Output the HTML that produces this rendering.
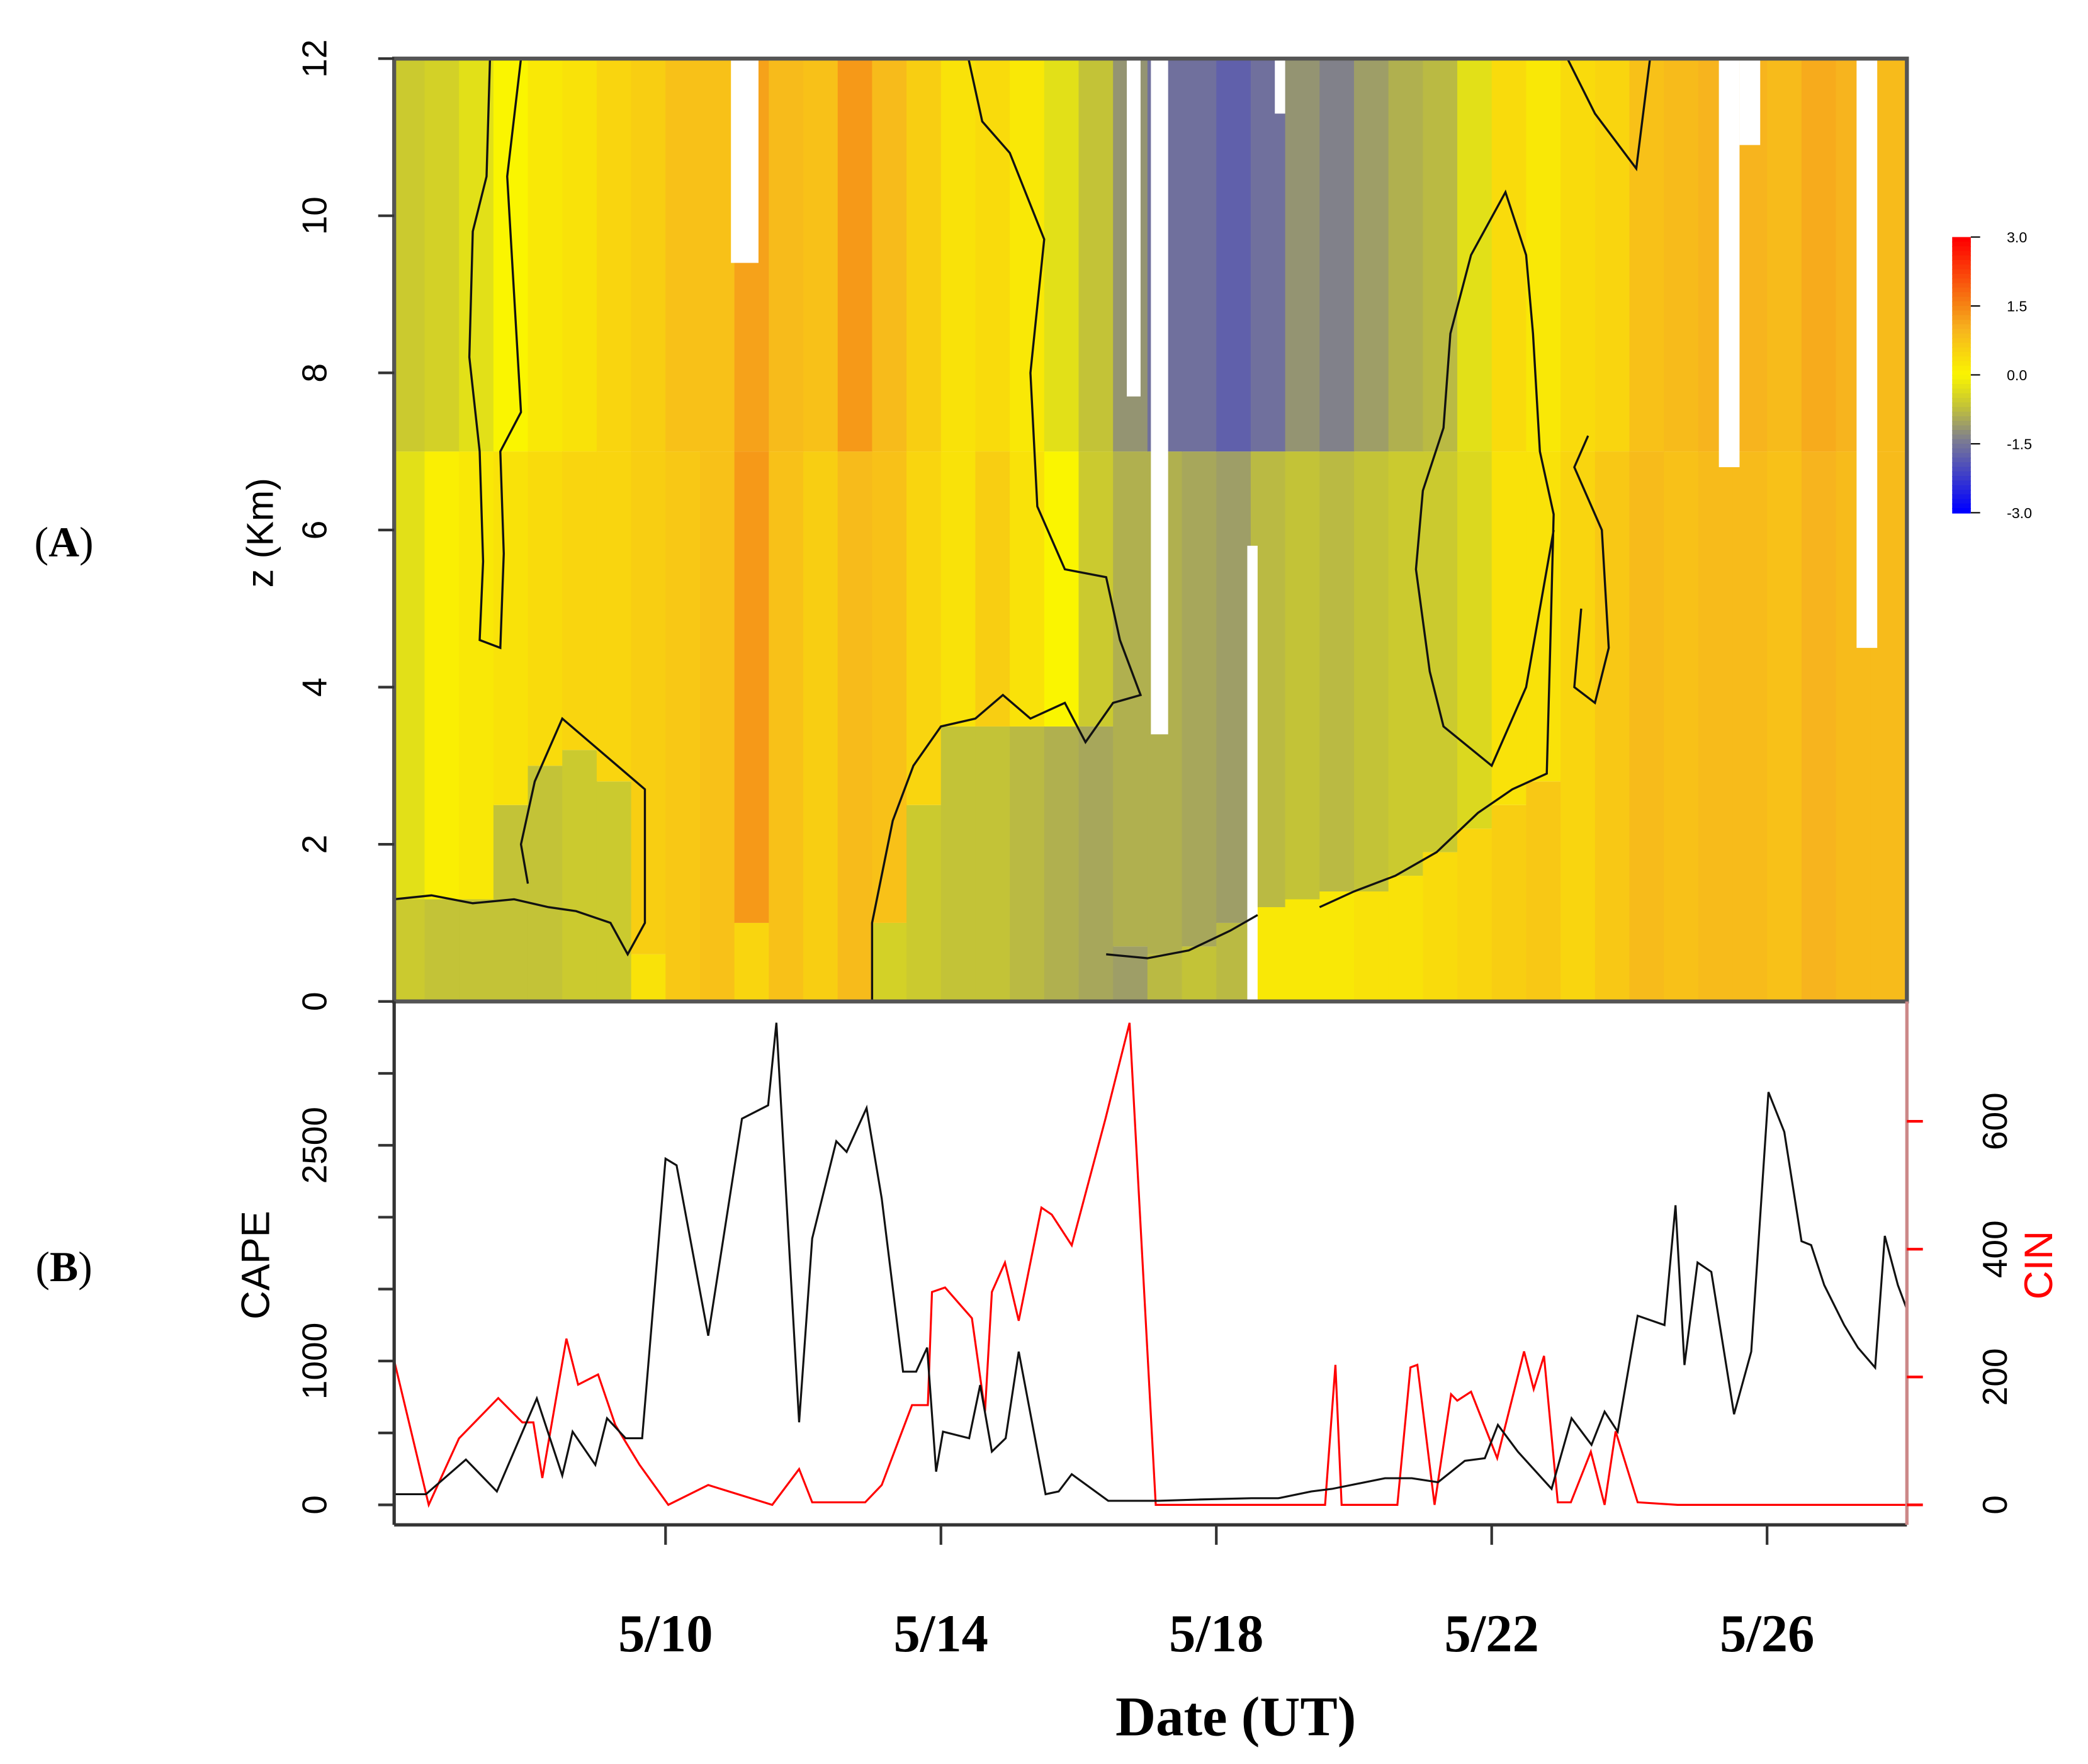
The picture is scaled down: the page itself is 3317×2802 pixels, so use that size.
<!DOCTYPE html>
<html><head><meta charset="utf-8"><style>
html,body{margin:0;padding:0;background:#fff;}
svg{display:block;}
</style></head><body>
<svg id="chart" width="3317" height="2802" viewBox="0 0 1568 1324.6" preserveAspectRatio="none" xmlns="http://www.w3.org/2000/svg">
<rect width="1568" height="1324.6" fill="#fff"/>
<g id="heat"></g>
<g id="gaps"></g>
<g id="contours" fill="none" stroke="#111" stroke-width="1.6"></g>
<g id="lower"></g>
<g id="axes" font-family="Liberation Sans, sans-serif"></g>
<text x="48" y="418" font-family="Liberation Serif, serif" font-size="32" text-anchor="middle">(<tspan font-weight="bold">A</tspan>)</text>
<text x="48" y="962" font-family="Liberation Serif, serif" font-size="32" text-anchor="middle">(<tspan font-weight="bold">B</tspan>)</text>
<text transform="translate(205,400) rotate(-90)" font-family="Liberation Sans, sans-serif" font-size="28" text-anchor="middle">z (Km)</text>
<text transform="translate(202,950) rotate(-90)" font-family="Liberation Sans, sans-serif" font-size="30" text-anchor="middle">CAPE</text>
<text transform="translate(1541,950) rotate(-90)" font-family="Liberation Sans, sans-serif" font-size="30" fill="#f00" text-anchor="middle">CIN</text>
<text x="928" y="1303" font-family="Liberation Serif, serif" font-weight="bold" font-size="42" text-anchor="middle">Date (UT)</text>
</svg>
<script>
// ---------- data ----------
const colDays=[6,6.5,7,7.5,8,8.5,9,9.5,10,10.5,11,11.5,12,12.5,13,13.5,14,14.5,15,15.5,16,16.5,17,17.5,18,18.5,19,19.5,20,20.5,21,21.5,22,22.5,23,23.5,24,24.5,25,25.5,26,26.5,27,27.5];
const lowVals=[-0.6,-0.7,-0.7,-0.7,-0.7,-0.6,-0.6,0.3,0.6,0.7,0.5,0.6,0.4,0.5,-0.5,-0.6,-0.7,-0.7,-0.8,-0.9,-1.0,-1.1,-0.8,-0.7,-0.8,0.2,0.2,0.2,0.3,0.3,0.4,0.5,0.6,0.7,0.8,0.9,1.1,0.9,0.8,0.9,0.8,1.0,0.9,0.9];
const splitKm=[1.3,1.3,1.3,2.5,3.0,3.2,2.8,0.6,0,0,1,0,0,0,1,2.5,3.5,3.5,3.5,3.5,3.5,0.7,0.6,0.7,1.0,1.2,1.3,1.4,1.4,1.6,1.9,2.2,2.5,2.8,0,0,0,0,0,0,0,0,0,0];
const midVals=[-0.3,0.1,0.2,0.3,0.4,0.5,0.5,0.6,0.7,0.8,1.3,0.8,0.6,0.9,0.8,0.5,0.3,0.6,0.3,0.0,-0.6,-0.9,-0.9,-1.0,-1.1,-0.8,-0.7,-0.8,-0.7,-0.6,-0.6,-0.4,0.3,0.3,0.5,0.7,0.9,0.8,0.9,0.9,0.8,1.0,0.9,0.9];
const topVals=[-0.6,-0.5,-0.3,0.0,0.2,0.3,0.5,0.6,0.8,0.8,1.2,0.9,0.8,1.3,0.9,0.6,0.3,0.4,0.2,-0.3,-0.7,-1.2,-1.6,-1.6,-1.8,-1.6,-1.2,-1.4,-1.1,-0.9,-0.8,-0.3,0.4,0.2,0.4,0.5,0.8,0.9,1.0,1.0,0.9,1.1,1.0,0.9];

const gapDay0=[10.95,16.7,17.05,18.45,18.85,25.3,25.6,27.3];
const gapDay1=[11.35,16.9,17.3,18.6,19.0,25.6,25.9,27.6];
const gapKm0=[9.4,7.7,3.4,0,11.3,6.8,10.9,4.5];

const capeDays=[6.06,6.52,7.10,7.55,8.13,8.50,8.65,8.98,9.15,9.42,9.66,10.0,10.16,10.62,11.11,11.49,11.61,11.94,12.13,12.48,12.63,12.92,13.14,13.45,13.64,13.80,13.93,14.03,14.41,14.57,14.74,14.94,15.13,15.52,15.71,15.90,16.43,17.16,17.74,18.51,18.90,19.38,19.68,20.45,20.84,21.22,21.61,21.90,22.09,22.38,22.87,23.16,23.45,23.64,23.83,24.12,24.51,24.67,24.80,24.99,25.19,25.52,25.77,26.02,26.25,26.50,26.64,26.83,27.12,27.32,27.57,27.71,27.90,28.03];
const capeVals=[74,74,315,93,740,204,509,278,602,463,463,2407,2361,1176,2685,2778,3352,574,1852,2528,2454,2759,2130,926,926,1093,231,509,463,833,370,463,1065,74,93,213,28,28,37,46,46,93,111,185,185,157,306,324,556,370,111,602,417,648,509,1315,1250,2083,972,1685,1620,630,1065,2870,2593,1833,1806,1528,1250,1093,954,1870,1528,1361];

const cinDays=[6.06,6.56,7.0,7.57,7.92,8.08,8.21,8.56,8.73,9.02,9.27,9.62,10.04,10.62,11.55,11.94,12.13,12.90,13.14,13.58,13.81,13.87,14.06,14.45,14.64,14.74,14.93,15.13,15.46,15.61,15.90,16.39,16.74,17.12,17.74,18.90,19.58,19.73,19.82,20.63,20.82,20.92,21.17,21.41,21.50,21.70,22.08,22.47,22.61,22.76,22.96,23.15,23.44,23.64,23.80,24.12,24.70,28.03];
const cinVals=[225,0,104,167,129,129,42,260,188,204,125,63,0,31,0,56,4,4,31,156,156,333,340,292,146,333,379,288,465,454,406,604,754,0,0,0,0,219,0,0,215,219,0,173,163,177,73,240,181,233,4,4,83,0,115,4,0,0];

const yTicks=[0,2,4,6,8,10,12];
const capeTicks=[0,500,1000,1500,2000,2500,3000];
const capeLabels=["0","","1000","","","2500",""];
const cinTicks=[0,200,400,600];
const dateTicks=[10,14,18,22,26];
const dateLabels=["5/10","5/14","5/18","5/22","5/26"];
const cbarVals=[3.0,1.5,0.0,-1.5,-3.0];

// contour polylines [day,km]
const contourA=[[6.05,1.3],[6.6,1.35],[7.2,1.25],[7.8,1.3],[8.3,1.2],[8.7,1.15],[9.2,1.0],[9.45,0.6],[9.7,1.0],[9.7,2.7],[9.3,3.0],[8.9,3.3],[8.5,3.6],[8.3,3.2],[8.1,2.8],[7.9,2.0],[8.0,1.5]];
const contourB=[[7.45,12],[7.4,10.5],[7.2,9.8],[7.15,8.2],[7.3,7],[7.35,5.6],[7.3,4.6],[7.6,4.5],[7.65,5.7],[7.6,7],[7.9,7.5],[7.8,9],[7.7,10.5],[7.9,12]];
const contourC=[[13.0,0],[13.0,1.0],[13.3,2.3],[13.6,3.0],[14.0,3.5],[14.5,3.6],[14.9,3.9],[15.3,3.6],[15.8,3.8],[16.1,3.3],[16.5,3.8],[16.9,3.9],[16.6,4.6],[16.4,5.4],[15.8,5.5],[15.4,6.3],[15.3,8],[15.5,9.7],[15.0,10.8],[14.6,11.2],[14.4,12]];
const contourD=[[16.4,0.6],[17.0,0.55],[17.6,0.65],[18.2,0.9],[18.6,1.1]];
const contourE=[[19.5,1.2],[20.0,1.4],[20.6,1.6],[21.2,1.9],[21.8,2.4],[22.3,2.7],[22.8,2.9],[22.85,4.5],[22.9,6.2],[22.7,7],[22.6,8.5],[22.5,9.5],[22.2,10.3],[21.7,9.5],[21.4,8.5],[21.3,7.3],[21.0,6.5],[20.9,5.5],[21.1,4.2],[21.3,3.5],[22.0,3.0],[22.5,4.0],[22.9,6.0]];
const contourF=[[23.1,12],[23.5,11.3],[24.1,10.6],[24.3,12]];
const contourG=[[23.3,5],[23.2,4.0],[23.5,3.8],[23.7,4.5],[23.6,6],[23.2,6.8],[23.4,7.2]];

// ---------- scales ----------
const X0=296,X1=1432;
function xd(d){return 293+(d-6)*51.7;}
function yk(k){return 752-k*(752-44)/12;}
function yc(v){return 1130-v*0.108;}
function yn(v){return 1130-v*0.48;}
function lerp(a,b,t){return a+(b-a)*t;}
function color(v){
  const st=[[-3,[0,0,255]],[-1.5,[120,120,150]],[-0.7,[195,195,55]],[0,[250,245,0]],[1,[247,180,30]],[1.5,[245,135,20]],[3,[255,0,0]]];
  v=Math.max(-3,Math.min(3,v));
  for(let i=0;i<st.length-1;i++){if(v<=st[i+1][0]){const t=(v-st[i][0])/(st[i+1][0]-st[i][0]);const c=st[i][1].map((a,j)=>Math.round(lerp(a,st[i+1][1][j],t)));return `rgb(${c})`;}}
  return "rgb(255,0,0)";
}
const NS="http://www.w3.org/2000/svg";
function el(tag,attrs,parent){const e=document.createElementNS(NS,tag);for(const k in attrs)e.setAttribute(k,attrs[k]);parent.appendChild(e);return e;}

// ---------- heatmap ----------
const heat=document.getElementById('heat');
colDays.forEach((d,i)=>{
  const xa=Math.max(X0,xd(d)), xb=Math.min(X1,xd(d+0.5));
  const s=splitKm[i];
  if(s>0){const r=el('rect',{x:xa,y:yk(s),width:xb-xa+0.5,height:yk(0)-yk(s),fill:color(lowVals[i])},heat);
    
    }
  const r2=el('rect',{x:xa,y:yk(7),width:xb-xa+0.5,height:yk(s)-yk(7),fill:color(midVals[i])},heat);
  
  
  const r3=el('rect',{x:xa,y:yk(12),width:xb-xa+0.5,height:yk(7)-yk(12),fill:color(topVals[i])},heat);
  
  
});
const gaps=document.getElementById('gaps');
gapDay0.forEach((d,i)=>{
  const top=(i===3)?5.8:12;
  const g=el('rect',{x:xd(d),y:yk(top),width:xd(gapDay1[i])-xd(d),height:yk(gapKm0[i])-yk(top),fill:'#fff'},gaps);
  
  
});
const cont=document.getElementById('contours');
[contourA,contourB,contourC,contourD,contourE,contourF,contourG].forEach(c=>{
  const p=el('polyline',{points:c.map(q=>xd(q[0])+','+yk(q[1])).join(' ')},cont);
  
  
});

// ---------- lower panel ----------
const lower=document.getElementById('lower');
const cin=el('polyline',{points:cinDays.map((d,i)=>xd(d)+','+yn(cinVals[i])).join(' '),fill:'none',stroke:'#f00','stroke-width':1.5},lower);


const cape=el('polyline',{points:capeDays.map((d,i)=>xd(d)+','+yc(capeVals[i])).join(' '),fill:'none',stroke:'#111','stroke-width':1.5},lower);



// ---------- axes ----------
const ax=document.getElementById('axes');
el('rect',{x:X0,y:44,width:X1-X0,height:708,fill:'none',stroke:'#555','stroke-width':3},ax);
el('line',{x1:X0,y1:752,x2:X0,y2:1145,stroke:'#333','stroke-width':2.5},ax);
el('line',{x1:X0,y1:1145,x2:X1,y2:1145,stroke:'#333','stroke-width':2.5},ax);
el('line',{x1:X1,y1:752,x2:X1,y2:1145,stroke:'#c88','stroke-width':2.5},ax);
yTicks.forEach(k=>{
  el('line',{x1:284,y1:yk(k),x2:X0,y2:yk(k),stroke:'#333','stroke-width':2},ax);
  const t=el('text',{transform:`translate(245,${yk(k)}) rotate(-90)`,'font-size':26,'text-anchor':'middle'},ax);
  t.textContent=k;
  
  
});
capeTicks.forEach((v,i)=>{
  el('line',{x1:284,y1:yc(v),x2:X0,y2:yc(v),stroke:'#333','stroke-width':2},ax);
  if(capeLabels[i]){const t=el('text',{transform:`translate(245,${yc(v)}) rotate(-90)`,'font-size':26,'text-anchor':'middle'},ax);
    t.textContent=capeLabels[i];
    
    }
});
cinTicks.forEach(v=>{
  el('line',{x1:X1,y1:yn(v),x2:1444,y2:yn(v),stroke:'#f00','stroke-width':2},ax);
  const t=el('text',{transform:`translate(1507,${yn(v)}) rotate(-90)`,'font-size':26,'text-anchor':'middle'},ax);
  t.textContent=v;
  
  
});
dateTicks.forEach((d,i)=>{
  el('line',{x1:xd(d),y1:1145,x2:xd(d),y2:1160,stroke:'#333','stroke-width':2},ax);
  const t=el('text',{x:xd(d),y:1240,'font-size':40,'font-weight':'bold','font-family':'Liberation Serif, serif','text-anchor':'middle'},ax);
  t.textContent=dateLabels[i];
  
  
});
// colorbar
for(let i=0;i<60;i++){const v=3-6*i/59;el('rect',{x:1466,y:178+i*207/60,width:14,height:207/60+0.6,fill:color(v)},ax);}
cbarVals.forEach((v,i)=>{
  const y=178+i*207/4;
  el('line',{x1:1480,y1:y,x2:1487,y2:y,stroke:'#000','stroke-width':1},ax);
  const t=el('text',{x:1507,y:y+4,'font-size':11,'text-anchor':'start'},ax);
  t.textContent=v.toFixed(1);
  
  
});
</script>
</body></html>
